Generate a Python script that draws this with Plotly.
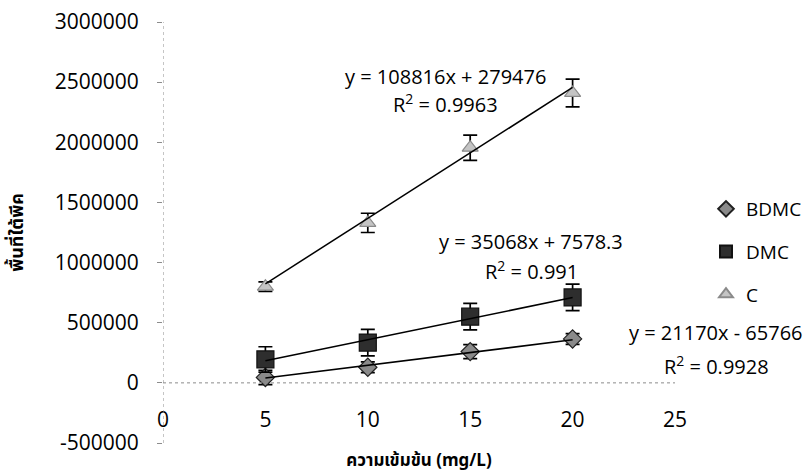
import plotly.graph_objects as go

# Concentration levels (mg/L)
conc = [5, 10, 15, 20]

# Peak area response per compound, with standard deviation
bdmc_area = [45000, 130000, 260000, 365000]
bdmc_sd = [60000, 45000, 58000, 45000]
dmc_area = [195000, 335000, 550000, 710000]
dmc_sd = [105000, 110000, 110000, 110000]
c_area = [800000, 1330000, 1955000, 2410000]
c_sd = [40000, 80000, 105000, 115000]

# Linear-fit results (slope, intercept, R^2)
bdmc_fit = (21170, -65766, 0.9928)
dmc_fit = (35068, 7578.3, 0.991)
c_fit = (108816, 279476, 0.9963)

# Axis ticks
x_ticks = [0, 5, 10, 15, 20, 25]
y_ticks = [-500000, 0, 500000, 1000000, 1500000, 2000000, 2500000, 3000000]
y_tick_text = ["-500000", "0", "500000", "1000000", "1500000", "2000000", "2500000", "3000000"]

FONT = "Open Sans, Noto Sans, sans-serif"
THAI = "Noto Sans Thai, Loma, Garuda, Tlwg Typo, Noto Sans, sans-serif"

W, H = 811, 474
L, R, T, B = 163, 136, 22, 31


def px(x, y):
    """Convert pixel position to paper coordinates."""
    return (x - L) / (W - L - R), (H - B - y) / (H - T - B)


fig = go.Figure()

series = [
    ("BDMC", bdmc_area, bdmc_sd, "diamond", 14, "#8a8a8a", "#202020"),
    ("DMC", dmc_area, dmc_sd, "square", 17, "#2e2e2e", "#111111"),
    ("C", c_area, c_sd, "triangle-up", 14, "#c4c4c4", "#8a8a8a"),
]

for name, ys, sd, sym, size, fill, edge in series:
    fig.add_trace(go.Scatter(
        x=conc, y=ys, mode="markers", name=name, legendgroup=name,
        marker=dict(symbol=sym, size=size, color=fill,
                    line=dict(color=edge, width=1.2)),
        error_y=dict(type="data", array=sd, visible=True,
                     color="black", thickness=1.7, width=7),
    ))

# Trendlines drawn from the fitted equations
for fit in (bdmc_fit, dmc_fit, c_fit):
    slope, icpt, _ = fit
    xs = [conc[0], conc[-1]]
    fig.add_trace(go.Scatter(
        x=xs, y=[slope * v + icpt for v in xs], mode="lines",
        line=dict(color="black", width=1.5), showlegend=False, hoverinfo="skip",
    ))


def eq_lines(fit):
    slope, icpt, r2 = fit
    sign = "+" if icpt >= 0 else "-"
    return f"y = {slope}x {sign} {abs(icpt):g}", f"R<sup>2</sup> = {r2:g}"


annots = []
placements = (
    (c_fit, 445, 76, 104),
    (dmc_fit, 531, 242, 270),
    (bdmc_fit, 716, 332, 365),
)
for fit, cx, y_eq, y_r2 in placements:
    for text, cy in zip(eq_lines(fit), (y_eq, y_r2)):
        xp, yp = px(cx, cy)
        annots.append(dict(
            xref="paper", yref="paper", x=xp, y=yp, text=text,
            showarrow=False, xanchor="center", yanchor="middle",
            font=dict(family=FONT, size=20, color="black"),
        ))

shapes = [
    # dotted value axis line
    dict(type="line", xref="x", yref="paper", x0=0, x1=0, y0=0, y1=1,
         line=dict(color="#8c8c8c", width=1, dash="dot")),
    # dotted horizontal zero line
    dict(type="line", xref="paper", yref="y", x0=0, x1=1, y0=0, y1=0,
         line=dict(color="#8c8c8c", width=1, dash="dot")),
]

lx, ly = px(706, 190)

fig.update_layout(
    width=W, height=H,
    margin=dict(l=L, r=R, t=T, b=B, autoexpand=False),
    paper_bgcolor="white", plot_bgcolor="white",
    font=dict(family=FONT, size=21, color="black"),
    showlegend=True,
    legend=dict(x=lx, y=ly, xanchor="left", yanchor="top",
                font=dict(family=FONT, size=19, color="black"),
                itemsizing="constant", borderwidth=0,
                tracegroupgap=15, bgcolor="rgba(0,0,0,0)"),
    xaxis=dict(
        range=[0, 25], tickvals=x_ticks, ticks="", showline=False,
        showgrid=False, zeroline=False, anchor="free", position=px(0, 405)[1],
        tickfont=dict(family=FONT, size=21),
        title=dict(text="ความเข้มข้น (mg/L)", standoff=28,
                   font=dict(family=THAI, size=17, weight="bold")),
    ),
    yaxis=dict(
        range=[-500000, 3000000], tickvals=y_ticks, ticktext=y_tick_text,
        ticks="outside", ticklen=5, tickcolor="#8c8c8c", showline=False,
        showgrid=False, zeroline=False, ticklabelstandoff=14,
        tickfont=dict(family=FONT, size=21),
        title=dict(text="พื้นที่ใต้พีค", standoff=26,
                   font=dict(family=THAI, size=18, weight="bold")),
    ),
    annotations=annots,
    shapes=shapes,
)

fig.write_html("out.html")
